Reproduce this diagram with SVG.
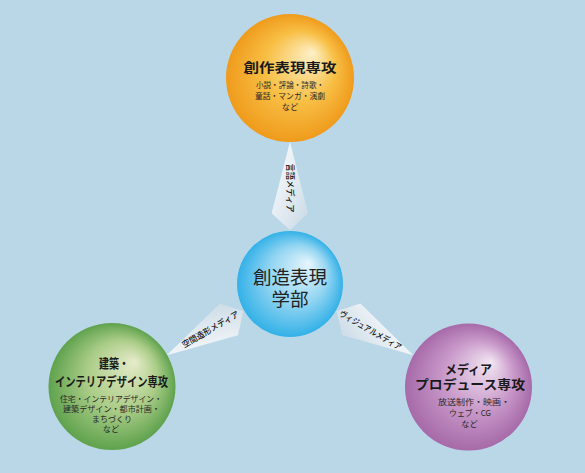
<svg xmlns="http://www.w3.org/2000/svg" xmlns:xlink="http://www.w3.org/1999/xlink" width="585" height="473" viewBox="0 0 585 473">
<defs>
<style>
text{font-family:"Noto Sans CJK JP","Noto Sans",sans-serif;fill:#1a1a1a;text-anchor:middle}
.t{font-weight:bold;font-size:13px}
.s{font-size:8.2px;fill:#2a2a2a}
.c{font-size:18.5px;fill:#222}
.k{font-size:8.6px;fill:#111;font-weight:500}
</style>
<radialGradient id="gO" cx="0.5" cy="0.5" r="0.5" fx="0.68" fy="0.3">
<stop offset="0" stop-color="#fdf1c8"/><stop offset="0.55" stop-color="#f8bf45"/><stop offset="1" stop-color="#ef9b1c"/>
</radialGradient>
<radialGradient id="gB" cx="0.5" cy="0.5" r="0.5" fx="0.68" fy="0.3">
<stop offset="0" stop-color="#e6f5fc"/><stop offset="0.55" stop-color="#93d5f2"/><stop offset="1" stop-color="#33b1e7"/>
</radialGradient>
<radialGradient id="gG" cx="0.5" cy="0.5" r="0.5" fx="0.68" fy="0.3">
<stop offset="0" stop-color="#e5ebc9"/><stop offset="0.55" stop-color="#abcd88"/><stop offset="1" stop-color="#5fa24d"/>
</radialGradient>
<radialGradient id="gP" cx="0.5" cy="0.5" r="0.5" fx="0.68" fy="0.3">
<stop offset="0" stop-color="#f2e6f2"/><stop offset="0.55" stop-color="#c999ca"/><stop offset="1" stop-color="#a66aa8"/>
</radialGradient>
<linearGradient id="gK" x1="0" y1="0" x2="1" y2="1">
<stop offset="0" stop-color="#ffffff"/><stop offset="1" stop-color="#c9d9e5"/>
</linearGradient>
<path id="kite" d="M290,141.7 L308,213.3 L290,230 L271.6,213.3 Z" fill="url(#gK)"/>
</defs>
<rect width="585" height="473" fill="#bad7e8"/>
<g id="connectors">
<use xlink:href="#kite"/>
<use xlink:href="#kite" transform="rotate(-120 290 284)"/>
<use xlink:href="#kite" transform="rotate(120 290 284)"/>
<text class="k" transform="translate(287,188) rotate(90)" textLength="49" lengthAdjust="spacingAndGlyphs">言語メディア</text>
<text class="k" transform="translate(212,332) rotate(-30)" textLength="64" lengthAdjust="spacingAndGlyphs">空間造形メディア</text>
<text class="k" transform="translate(369,333) rotate(30)" textLength="70" lengthAdjust="spacingAndGlyphs">ヴィジュアルメディア</text>
</g>
<g id="node-top">
<circle cx="290" cy="78" r="64" fill="url(#gO)"/>
<text class="t" x="290" y="72" font-size="14.5" textLength="93" lengthAdjust="spacingAndGlyphs">創作表現専攻</text>
<text class="s" x="290" y="88" textLength="68" lengthAdjust="spacingAndGlyphs">小説・評論・詩歌・</text>
<text class="s" x="290" y="99" textLength="70" lengthAdjust="spacingAndGlyphs">童話・マンガ・演劇</text>
<text class="s" x="290" y="110">など</text>
</g>
<g id="node-center">
<circle cx="290" cy="284" r="53" fill="url(#gB)"/>
<text class="c" x="290" y="284">創造表現</text>
<text class="c" x="290" y="306">学部</text>
</g>
<g id="node-left">
<circle cx="112" cy="386.5" r="63.5" fill="url(#gG)"/>
<text class="t" x="114" y="368" textLength="30" lengthAdjust="spacingAndGlyphs">建築・</text>
<text class="t" x="111.5" y="386" textLength="113" lengthAdjust="spacingAndGlyphs">インテリアデザイン専攻</text>
<text class="s" x="111" y="402" textLength="102" lengthAdjust="spacingAndGlyphs">住宅・インテリアデザイン・</text>
<text class="s" x="111.5" y="412" textLength="97" lengthAdjust="spacingAndGlyphs">建築デザイン・都市計画・</text>
<text class="s" x="112" y="422" textLength="40" lengthAdjust="spacingAndGlyphs">まちづくり</text>
<text class="s" x="111" y="432">など</text>
</g>
<g id="node-right">
<circle cx="468.5" cy="387" r="63.5" fill="url(#gP)"/>
<text class="t" x="468.5" y="374" textLength="47" lengthAdjust="spacingAndGlyphs">メディア</text>
<text class="t" x="470" y="389" textLength="110" lengthAdjust="spacingAndGlyphs">プロデュース専攻</text>
<text class="s" x="474" y="405" textLength="72" lengthAdjust="spacingAndGlyphs">放送制作・映画・</text>
<text class="s" x="470" y="416" textLength="42" lengthAdjust="spacingAndGlyphs">ウェブ・CG</text>
<text class="s" x="469.5" y="427">など</text>
</g>
</svg>
